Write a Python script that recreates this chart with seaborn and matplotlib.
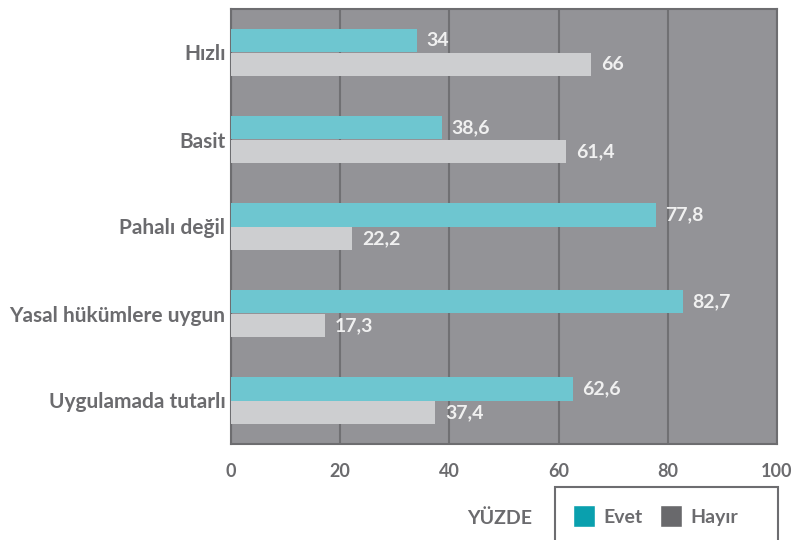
import numpy as np
import pandas as pd
import matplotlib
matplotlib.use('Agg')
import matplotlib.pyplot as plt
from matplotlib.patches import Patch, Rectangle
import seaborn as sns

# data
categories = ['Hızlı', 'Basit', 'Pahalı değil', 'Yasal hükümlere uygun', 'Uygulamada tutarlı']
evet = [34, 38.6, 77.8, 82.7, 62.6]
hayir = [66, 61.4, 22.2, 17.3, 37.4]
series_names = ['Evet', 'Hayır']
x_ticks = [0, 20, 40, 60, 80, 100]

TEXT = '#6b6b6e'
LINE = '#6d6d70'
BG = '#939397'
bar_colors = ['#6ec6d0', '#cdced0']
legend_colors = ['#0aa0ae', '#69696c']

sns.set_style('white')
plt.rcParams['font.family'] = ['Lato', 'DejaVu Sans']

df = pd.DataFrame({
    'kategori': categories * 2,
    'yuzde': evet + hayir,
    'cevap': [series_names[0]] * len(categories) + [series_names[1]] * len(categories),
})

fig = plt.figure(figsize=(8.03, 5.40), dpi=100)
ax = fig.add_axes([231 / 803, 1 - 444 / 540, 546 / 803, 435 / 540])
ax.set_facecolor(BG)

sns.barplot(data=df, y='kategori', x='yuzde', hue='cevap', orient='h',
            palette=bar_colors, width=0.55, errorbar=None, saturation=1,
            linewidth=0, ax=ax, legend=False, zorder=3)

for cont, vals in zip(ax.containers, [evet, hayir]):
    labels = [f'{v:g}'.replace('.', ',') for v in vals]
    ax.bar_label(cont, labels=labels, padding=7, color='#f0f0f0',
                 fontsize=14, fontweight='bold')

ax.set_xlim(0, 100)
ax.set_ylim(len(categories) - 0.5, -0.5)
ax.set_xticks(x_ticks)
ax.set_xticklabels([str(t) for t in x_ticks])
ax.set_yticks(np.arange(-0.5, len(categories)), labels=[''] * (len(categories) + 1))
ax.set_yticks(np.arange(len(categories)), labels=categories, minor=True)
ax.tick_params(axis='y', which='major', length=11, width=1.5, color=LINE)
ax.tick_params(axis='y', which='minor', length=0, pad=4,
               labelsize=15, labelcolor=TEXT)
ax.tick_params(axis='x', length=8, width=1.5, color=LINE, pad=6,
               labelsize=13, labelcolor=TEXT)
for lab in ax.get_yticklabels(minor=True) + ax.get_xticklabels():
    lab.set_fontweight('bold')

ax.grid(axis='x', color='#707073', lw=1.5, zorder=1)
ax.set_axisbelow(True)
for s in ax.spines.values():
    s.set_color(LINE)
    s.set_linewidth(1.5)
ax.set_xlabel('')
ax.set_ylabel('')

# legend box at the bottom right (runs off the figure edge)
fig.add_artist(Rectangle((555 / 803, -0.05), 223 / 803, (540 - 487) / 540 + 0.05,
                         transform=fig.transFigure, fill=False,
                         edgecolor=LINE, lw=1.5))
handles = [Patch(facecolor=c, label=n) for c, n in zip(legend_colors, series_names)]
fig.legend(handles=handles, ncol=2, frameon=False, loc='center left',
           bbox_to_anchor=(556 / 803, 1 - 516 / 540), handlelength=1.1,
           handleheight=1.3, handletextpad=0.45, columnspacing=0.9,
           prop={'size': 14, 'weight': 'bold'}, labelcolor=TEXT)
fig.text(532 / 803, 1 - 518 / 540, 'YÜZDE', ha='right', va='center',
         fontsize=14, fontweight='bold', color=TEXT)

fig.savefig('out.png', dpi=100)
